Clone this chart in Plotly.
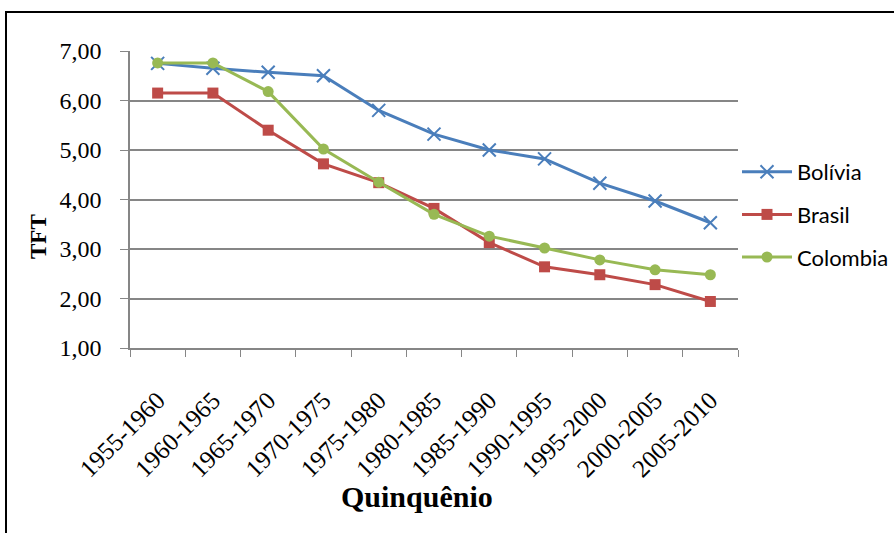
import plotly.graph_objects as go

categories = ["1955-1960", "1960-1965", "1965-1970", "1970-1975", "1975-1980", "1980-1985",
              "1985-1990", "1990-1995", "1995-2000", "2000-2005", "2005-2010"]
bolivia = [6.75, 6.65, 6.57, 6.50, 5.80, 5.32, 5.00, 4.82, 4.33, 3.97, 3.53]
brasil = [6.15, 6.15, 5.40, 4.72, 4.34, 3.82, 3.13, 2.64, 2.48, 2.28, 1.94]
colombia = [6.76, 6.76, 6.18, 5.02, 4.35, 3.70, 3.26, 3.02, 2.78, 2.58, 2.48]
x_title = "Quinquênio"
y_title = "TFT"

SERIF = "Liberation Serif"

fig = go.Figure()
fig.add_trace(go.Scatter(x=categories, y=bolivia, name="Bolívia", mode="lines+markers",
                         line=dict(color="#4A7EBB", width=3), legendgroup="a",
                         marker=dict(symbol="x-thin", size=13, line=dict(color="#4A7EBB", width=2))))
fig.add_trace(go.Scatter(x=categories, y=brasil, name="Brasil", mode="lines+markers",
                         line=dict(color="#BE4B48", width=3), legendgroup="b",
                         marker=dict(symbol="square", size=11, color="#BE4B48")))
fig.add_trace(go.Scatter(x=categories, y=colombia, name="Colombia", mode="lines+markers",
                         line=dict(color="#98B954", width=3), legendgroup="c",
                         marker=dict(symbol="circle", size=11, color="#98B954")))

L, R, T, B = 130, 738, 51, 348
W, H = 894, 533
def px(x): return (x - L) / (R - L)
def py(y): return (B - y) / (B - T)

fig.update_layout(
    width=W, height=H,
    margin=dict(l=L, r=W - R, t=T, b=H - B, autoexpand=False),
    font=dict(family=SERIF, color="black"),
    paper_bgcolor="white", plot_bgcolor="white",
    showlegend=True,
    legend=dict(x=px(737), y=py(151), xanchor="left", yanchor="top",
                font=dict(family="Lato", size=22, color="black"),
                tracegroupgap=11, itemwidth=50, bgcolor="rgba(0,0,0,0)"),
    xaxis=dict(type="category", range=[-0.5, 10.5], tickson="boundaries", ticks="outside", ticklen=7,
               tickcolor="#868686", showline=True, linecolor="#868686", linewidth=1.5,
               showgrid=False, tickangle=-45, ticklabelstandoff=26, automargin=False,
               tickfont=dict(family=SERIF, size=25, color="black")),
    yaxis=dict(range=[1, 7], dtick=1, tickformat=".2f", ticks="outside", ticklen=8,
               tickcolor="#868686", showline=True, linecolor="#868686", linewidth=1.5,
               showgrid=True, gridcolor="#868686", gridwidth=1.5, zeroline=False,
               ticklabelstandoff=14, automargin=False,
               tickfont=dict(family=SERIF, size=24, color="black")),
    separators=",.",
    annotations=[
        dict(text=f"<b>{x_title}</b>", xref="paper", yref="paper", x=px(417), y=py(496),
             xanchor="center", yanchor="middle", showarrow=False,
             font=dict(family=SERIF, size=30, color="black")),
        dict(text=f"<b>{y_title}</b>", xref="paper", yref="paper", x=px(38), y=py(237),
             xanchor="center", yanchor="middle", showarrow=False, textangle=-90,
             font=dict(family=SERIF, size=23, color="black")),
    ],
    shapes=[dict(type="rect", xref="paper", yref="paper",
                 x0=px(6), x1=px(910), y0=py(560), y1=py(12),
                 line=dict(color="black", width=2))],
)

fig.write_html("out.html")
